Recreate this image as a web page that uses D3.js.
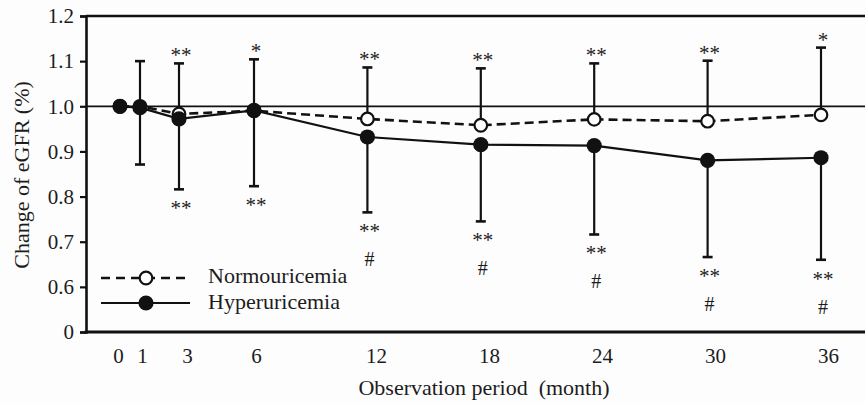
<!DOCTYPE html>
<html>
<head>
<meta charset="utf-8">
<script src="https://cdn.jsdelivr.net/npm/d3@7"></script>
<style>
  html, body { margin: 0; padding: 0; background: #fdfdfd; }
  svg { display: block; }
  text { font-family: "Liberation Serif", "Times New Roman", serif; fill: #1c1c1c; white-space: pre; }
</style>
</head>
<body>
<svg id="chart" width="865" height="404"></svg>
<script>
// ---- data ----
const months = [0, 1, 3, 6, 12, 18, 24, 30, 36];
const normoMean  = [1.000, 1.000, 0.983, 0.990, 0.972, 0.958, 0.971, 0.967, 0.981];
const hyperMean  = [1.000, 0.997, 0.972, 0.991, 0.932, 0.915, 0.913, 0.880, 0.886];
const normoUpper = [null, 1.100, 1.095, 1.104, 1.086, 1.084, 1.095, 1.101, 1.130];
const hyperLower = [null, 0.871, 0.816, 0.823, 0.765, 0.745, 0.716, 0.666, 0.660];
const topMarks    = ["", "", "**", "*", "**", "**", "**", "**", "*"];
const bottomMarks = ["", "", "**", "**", "**", "**", "**", "**", "**"];
const hashMarks   = ["", "", "", "", "#", "#", "#", "#", "#"];
const yTickValues = [0.5, 0.6, 0.7, 0.8, 0.9, 1.0, 1.1, 1.2];
const yTickLabels = ["0", "0.6", "0.7", "0.8", "0.9", "1.0", "1.1", "1.2"];
const seriesNames = ["Normouricemia", "Hyperuricemia"];
const xTitle = "Observation period \u00a0(month)";
const yTitle = "Change of eGFR (%)";

(function () {
// ---- layout ----
const svg = d3.select("#chart");
const mLeft = 86, mRight = 865, mTop = 16, mBottom = 332;
const ink = "#111111";

const x = d3.scaleLinear().domain([0, 1, 3, 6, 36]).range([120, 140, 179, 254, 821]);
const xLabel = d3.scaleLinear().domain([0, 1, 3, 6, 12, 36]).range([118, 142, 187, 256, 376, 828]);
const y = d3.scaleLinear().domain([0.5, 1.2]).range([mBottom, mTop]);

// frame: top line
svg.append("line").attr("x1", mLeft).attr("x2", mRight).attr("y1", y(1.2)).attr("y2", y(1.2))
  .attr("stroke", ink).attr("stroke-width", 2.6);
// reference line at 1.0
svg.append("line").attr("x1", mLeft).attr("x2", mRight).attr("y1", y(1.0)).attr("y2", y(1.0))
  .attr("stroke", ink).attr("stroke-width", 1.8);

// y axis
const yAxis = d3.axisLeft(y).tickValues(yTickValues)
  .tickFormat((d, i) => yTickLabels[i]).tickSize(6).tickPadding(6);
const gy = svg.append("g").attr("transform", `translate(${mLeft},0)`).call(yAxis);
gy.select(".domain").attr("stroke", ink).attr("stroke-width", 2.6);
gy.selectAll(".tick line").attr("stroke", ink).attr("stroke-width", 2.2);
gy.selectAll(".tick text").attr("font-size", 21).attr("font-family", "Liberation Serif").attr("fill", "#1c1c1c");

// x axis line (bottom)
svg.append("line").attr("x1", mLeft - 1.3).attr("x2", mRight).attr("y1", mBottom).attr("y2", mBottom)
  .attr("stroke", ink).attr("stroke-width", 2.8);
const xAxis = d3.axisBottom(xLabel).tickValues(months).tickFormat(d3.format("d")).tickSize(0).tickPadding(16);
const gx = svg.append("g").attr("transform", `translate(0,${mBottom})`).call(xAxis);
gx.select(".domain").remove();
gx.selectAll(".tick text").attr("font-size", 21).attr("font-family", "Liberation Serif").attr("fill", "#1c1c1c");

// axis titles
svg.append("text").attr("x", 484).attr("y", 395).attr("text-anchor", "middle")
  .attr("font-size", 22).text(xTitle);
svg.append("text").attr("transform", "translate(29,175) rotate(-90)").attr("text-anchor", "middle")
  .attr("font-size", 22).text(yTitle);

const idx = d3.range(months.length);

// lines
const normoLine = d3.line().x(i => x(months[i])).y(i => y(normoMean[i]));
const hyperLine = d3.line().x(i => x(months[i])).y(i => y(hyperMean[i]));
svg.append("path").attr("d", normoLine(idx)).attr("fill", "none").attr("stroke", ink)
  .attr("stroke-width", 2.6).attr("stroke-dasharray", "9,5");
svg.append("path").attr("d", hyperLine(idx)).attr("fill", "none").attr("stroke", ink)
  .attr("stroke-width", 2.2);

// error bars
const capW = 5;
const eb = idx.filter(i => normoUpper[i] !== null);
eb.forEach(i => {
  const cx = x(months[i]);
  svg.append("line").attr("x1", cx).attr("x2", cx).attr("y1", y(normoMean[i])).attr("y2", y(normoUpper[i]))
    .attr("stroke", ink).attr("stroke-width", 2.2);
  svg.append("line").attr("x1", cx - capW).attr("x2", cx + capW).attr("y1", y(normoUpper[i])).attr("y2", y(normoUpper[i]))
    .attr("stroke", ink).attr("stroke-width", 2.6);
  svg.append("line").attr("x1", cx).attr("x2", cx).attr("y1", y(hyperMean[i])).attr("y2", y(hyperLower[i]))
    .attr("stroke", ink).attr("stroke-width", 2.2);
  svg.append("line").attr("x1", cx - capW).attr("x2", cx + capW).attr("y1", y(hyperLower[i])).attr("y2", y(hyperLower[i]))
    .attr("stroke", ink).attr("stroke-width", 2.6);
});

// annotations
idx.forEach(i => {
  const cx = x(months[i]) + 2;
  if (topMarks[i]) svg.append("text").attr("x", cx).attr("y", y(normoUpper[i]) - 1)
    .attr("text-anchor", "middle").attr("font-size", 21).text(topMarks[i]);
  if (bottomMarks[i]) svg.append("text").attr("x", cx).attr("y", y(hyperLower[i]) + 26)
    .attr("text-anchor", "middle").attr("font-size", 21).text(bottomMarks[i]);
  if (hashMarks[i]) svg.append("text").attr("x", cx).attr("y", y(hyperLower[i]) + 54)
    .attr("text-anchor", "middle").attr("font-size", 20).text(hashMarks[i]);
});

// markers
svg.selectAll("circle.normo").data(idx).join("circle").attr("class", "normo")
  .attr("cx", i => x(months[i])).attr("cy", i => y(normoMean[i])).attr("r", 6.3)
  .attr("fill", "#ffffff").attr("stroke", ink).attr("stroke-width", 2.2);
svg.selectAll("circle.hyper").data(idx).join("circle").attr("class", "hyper")
  .attr("cx", i => x(months[i])).attr("cy", i => y(hyperMean[i])).attr("r", 7.6)
  .attr("fill", ink);

// legend
const legY = [278, 303];
const lg = svg.append("g");
lg.append("line").attr("x1", 101).attr("x2", 190).attr("y1", legY[0]).attr("y2", legY[0])
  .attr("stroke", ink).attr("stroke-width", 2.4).attr("stroke-dasharray", "9,6");
lg.append("circle").attr("cx", 146).attr("cy", legY[0]).attr("r", 6.3)
  .attr("fill", "#fff").attr("stroke", ink).attr("stroke-width", 2.2);
lg.append("line").attr("x1", 101).attr("x2", 190).attr("y1", legY[1]).attr("y2", legY[1])
  .attr("stroke", ink).attr("stroke-width", 2.2);
lg.append("circle").attr("cx", 146).attr("cy", legY[1]).attr("r", 7.6).attr("fill", ink);
seriesNames.forEach((s, k) => {
  lg.append("text").attr("x", 208).attr("y", legY[k] + 5 + (k ? 1 : 0)).attr("font-size", 22).text(s);
});
})();
</script>
</body>
</html>
